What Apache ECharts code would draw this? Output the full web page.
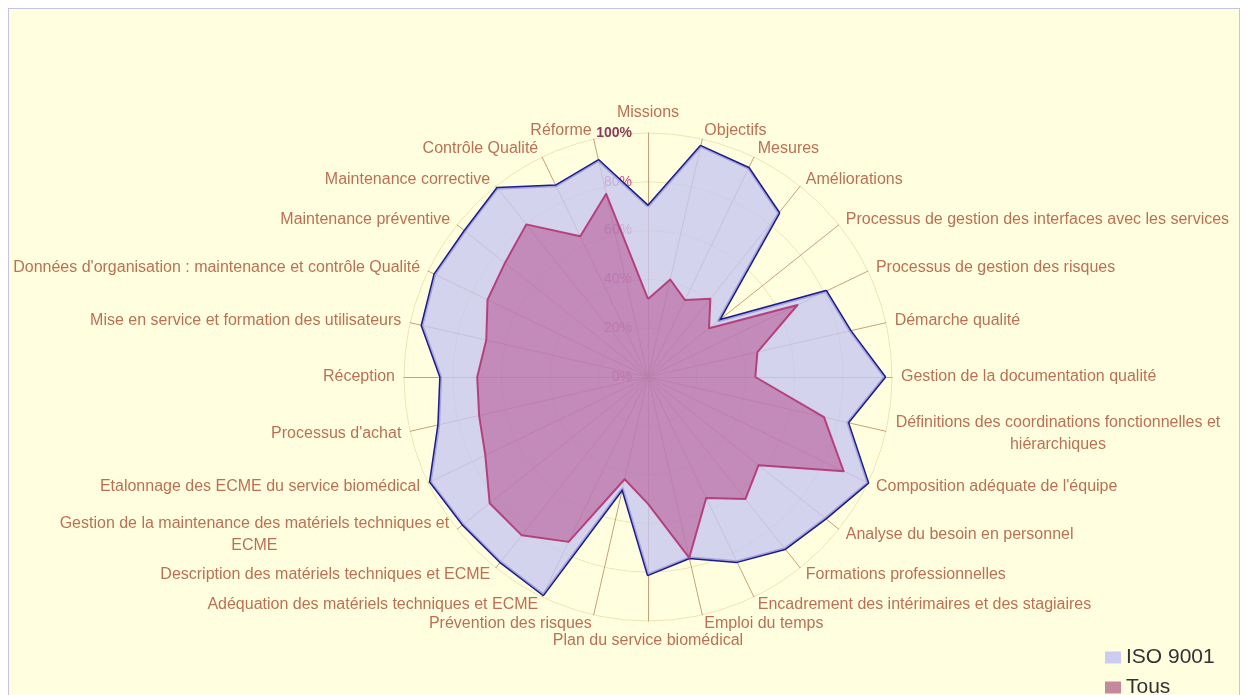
<!DOCTYPE html>
<html>
<head>
<meta charset="utf-8">
<script src="https://cdn.jsdelivr.net/npm/echarts@6/dist/echarts.min.js"></script>
<style>
  html, body { margin: 0; padding: 0; background: #ffffff; }
  #frame { position: absolute; left: 8px; top: 8px; width: 1230px; height: 700px;
           border: 1px solid #c4c4ea; background: #ffffe0; }
  #chart { position: absolute; left: 0; top: 0; width: 1247px; height: 695px; }
</style>
</head>
<body>
<div id="frame"></div>
<div id="chart"></div>
<script>
// Axes, listed clockwise starting from the top
const categories = [
  "Missions",
  "Objectifs",
  "Mesures",
  "Améliorations",
  "Processus de gestion des interfaces avec les services",
  "Processus de gestion des risques",
  "Démarche qualité",
  "Gestion de la documentation qualité",
  "Définitions des coordinations fonctionnelles et\nhiérarchiques",
  "Composition adéquate de l'équipe",
  "Analyse du besoin en personnel",
  "Formations professionnelles",
  "Encadrement des intérimaires et des stagiaires",
  "Emploi du temps",
  "Plan du service biomédical",
  "Prévention des risques",
  "Adéquation des matériels techniques et ECME",
  "Description des matériels techniques et ECME",
  "Gestion de la maintenance des matériels techniques et\nECME",
  "Etalonnage des ECME du service biomédical",
  "Processus d'achat",
  "Réception",
  "Mise en service et formation des utilisateurs",
  "Données d'organisation : maintenance et contrôle Qualité",
  "Maintenance préventive",
  "Maintenance corrective",
  "Contrôle Qualité",
  "Réforme"
];
const isoValues = [70, 97, 95, 86, 37, 81, 85, 97, 84, 100, 93, 90, 84, 76, 81, 47, 99, 97, 97, 99, 88, 85, 95, 97, 96, 99, 87, 91];
const tousValues = [32, 41, 35, 41, 32, 68, 46, 44, 74, 89, 58, 64, 55, 76, 52, 43, 75, 83, 83, 74, 71, 70, 68, 73, 75, 80, 64, 77];
const seriesNames = ["ISO 9001", "Tous"];
const radiusTicks = [0, 20, 40, 60, 80, 100];

// ECharts radar runs counter-clockwise: reorder so the chart reads clockwise
const order = [0];
for (let i = categories.length - 1; i >= 1; i--) order.push(i);
const pick = arr => order.map(i => arr[i]);

const FONT_FAMILY = '"Liberation Sans", Arial, sans-serif';
const NAME_SIZE = 16;
const NAME_COLOR = '#bb7054';
const ctx = document.createElement('canvas').getContext('2d');
ctx.font = NAME_SIZE + 'px ' + FONT_FAMILY;
const rich = {};
const wrapKey = {};
categories.forEach((c, i) => {
  if (c.indexOf('\n') >= 0) {
    const w = Math.max(...c.split('\n').map(l => ctx.measureText(l).width)) + 2;
    rich['w' + i] = { width: w, align: 'center', fontSize: NAME_SIZE, color: NAME_COLOR, lineHeight: 22, fontFamily: FONT_FAMILY };
    wrapKey[c] = 'w' + i;
  }
});

const chart = echarts.init(document.getElementById('chart'), null, { renderer: 'canvas' });
const CENTER = [648, 377];
const R = 244;

chart.setOption({
  backgroundColor: 'transparent',
  animation: false,
  legend: {
    orient: 'vertical',
    left: 1100,
    top: 642,
    height: 120,
    icon: 'rect',
    itemWidth: 16,
    itemHeight: 12,
    itemGap: 9,
    textStyle: { fontSize: 21, color: '#333', fontFamily: FONT_FAMILY },
    data: [
      { name: seriesNames[0], itemStyle: { color: '#ccccf2' } },
      { name: seriesNames[1], itemStyle: { color: '#c48a9c' } }
    ]
  },
  radar: {
    center: CENTER,
    radius: R,
    startAngle: 90,
    shape: 'circle',
    splitNumber: 5,
    nameGap: 9,
    indicator: pick(categories).map(n => ({ name: n, min: 0, max: 100 })),
    axisName: {
      color: NAME_COLOR,
      fontSize: NAME_SIZE,
      fontFamily: FONT_FAMILY,
      lineHeight: 22,
      formatter: function (v) {
        if (wrapKey[v]) {
          return v.split('\n').map(l => '{' + wrapKey[v] + '|' + l + '}').join('\n');
        }
        return v;
      },
      rich: rich
    },
    axisLine: { lineStyle: { color: '#b88a5c', width: 1, opacity: 0.8 } },
    splitLine: { lineStyle: { color: '#ece4b4', width: 1 } },
    splitArea: { show: false }
  },
  polar: { center: CENTER, radius: R },
  angleAxis: { show: false, startAngle: 90, min: 0, max: 360 },
  radiusAxis: {
    min: 0, max: 100, interval: 20,
    axisLine: { show: false },
    axisTick: { show: false },
    splitLine: { show: false },
    axisLabel: {
      margin: 16,
      color: '#d24a80',
      fontSize: 14,
      fontFamily: FONT_FAMILY,
      formatter: function (v) {
        return v === 100 ? '{b|' + v + '%}' : v + '%';
      },
      rich: { b: { fontWeight: 'bold', color: '#8a3c58', fontSize: 14, fontFamily: FONT_FAMILY } }
    },
    z: 0
  },
  series: [{
    type: 'radar',
    symbol: 'none',
    z: 2,
    data: [
      {
        name: seriesNames[0],
        value: pick(isoValues),
        itemStyle: { color: '#ccccf2' },
        lineStyle: { color: '#1c1c8c', width: 3 },
        areaStyle: { color: '#c8c8f0', opacity: 0.8 }
      },
      {
        name: seriesNames[1],
        value: pick(tousValues),
        itemStyle: { color: '#c48a9c' },
        lineStyle: { color: '#b8457e', width: 2 },
        areaStyle: { color: 'rgb(172,52,122)', opacity: 0.45 }
      }
    ]
  }]
});
</script>
</body>
</html>
